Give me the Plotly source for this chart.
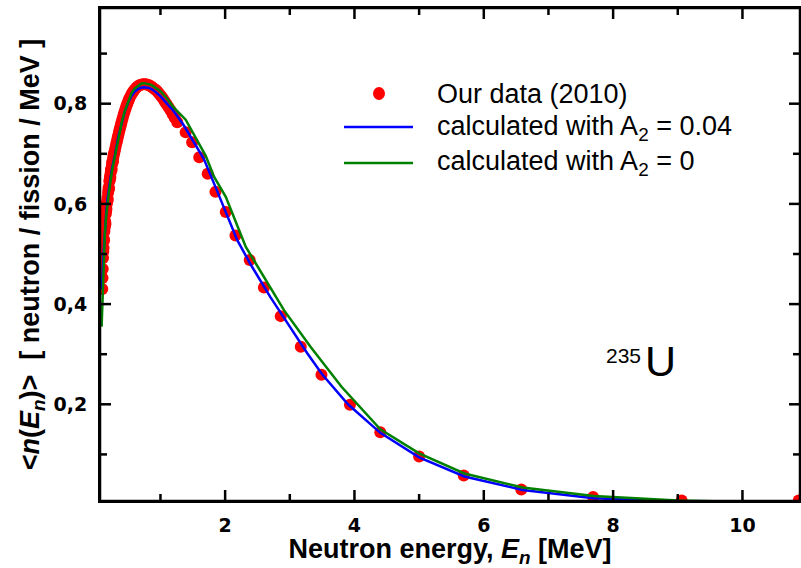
import plotly.graph_objects as go

# ---------------- data ----------------
data_E = [0.100, 0.104, 0.108, 0.112, 0.116, 0.120, 0.124, 0.128, 0.132, 0.136, 0.140, 0.145, 0.150,
          0.155, 0.160, 0.165, 0.170, 0.175, 0.180, 0.185, 0.190, 0.195, 0.200, 0.205, 0.210, 0.215,
          0.220, 0.225, 0.230, 0.235, 0.240, 0.245, 0.250, 0.255, 0.260, 0.265, 0.270, 0.275, 0.280,
          0.290, 0.300, 0.310, 0.320, 0.330, 0.340, 0.350, 0.360, 0.370, 0.380, 0.390, 0.400, 0.415,
          0.430, 0.445, 0.460, 0.475, 0.490, 0.505, 0.520, 0.540, 0.560, 0.580, 0.600, 0.625, 0.650,
          0.675, 0.700, 0.725, 0.750, 0.775, 0.800, 0.825, 0.850, 0.875, 0.900, 0.925, 0.950, 0.975,
          1.000, 1.025, 1.050, 1.075, 1.100, 1.130, 1.160, 1.190, 1.220,
          1.26, 1.39, 1.49, 1.60, 1.73, 1.85, 2.01, 2.16, 2.38, 2.60, 2.86, 3.17, 3.49, 3.93,
          4.40, 5.00, 5.69, 6.58, 7.69, 9.06, 10.87]
data_n = [0.430, 0.452, 0.470, 0.492, 0.505, 0.512, 0.530, 0.527, 0.545, 0.552, 0.556, 0.565, 0.560,
          0.580, 0.586, 0.590, 0.600, 0.605, 0.612, 0.608, 0.622, 0.628, 0.633, 0.630, 0.645, 0.648,
          0.655, 0.652, 0.662, 0.668, 0.670, 0.668, 0.678, 0.683, 0.686, 0.684, 0.692, 0.697, 0.700,
          0.704, 0.710, 0.716, 0.722, 0.727, 0.733, 0.738, 0.744, 0.749, 0.754, 0.759, 0.764, 0.771,
          0.778, 0.784, 0.790, 0.796, 0.801, 0.806, 0.811, 0.816, 0.821, 0.825, 0.828, 0.832, 0.835,
          0.837, 0.838, 0.839, 0.839, 0.839, 0.838, 0.837, 0.835, 0.833, 0.830, 0.828, 0.825, 0.821,
          0.817, 0.813, 0.808, 0.803, 0.798, 0.792, 0.786, 0.779, 0.772,
          0.763, 0.743, 0.723, 0.693, 0.660, 0.624, 0.584, 0.537, 0.488, 0.433, 0.376, 0.315, 0.259, 0.199,
          0.144, 0.096, 0.058, 0.030, 0.015, 0.008, 0.008]

calcA_E = [0.09, 0.10, 0.12, 0.14, 0.16, 0.18, 0.20, 0.25, 0.30, 0.35, 0.40, 0.45, 0.50, 0.55, 0.60,
           0.65, 0.70, 0.75, 0.80, 0.85, 0.90, 1.00, 1.10, 1.20, 1.36, 1.50, 1.67, 1.85, 2.00, 2.19,
           2.40, 2.70, 3.00, 3.27, 3.50, 3.90, 4.40, 5.00, 5.70, 6.60, 7.70, 9.00, 10.90]
calcA_n = [0.430, 0.445, 0.500, 0.550, 0.580, 0.610, 0.630, 0.670, 0.700, 0.735, 0.760, 0.785, 0.802, 0.815, 0.824,
           0.829, 0.832, 0.833, 0.832, 0.830, 0.826, 0.815, 0.800, 0.786, 0.757, 0.728, 0.690, 0.634, 0.588, 0.527,
           0.478, 0.414, 0.355, 0.302, 0.260, 0.200, 0.143, 0.094, 0.056, 0.029, 0.0125, 0.006, 0.002]

calc0_E = [0.09, 0.10, 0.11, 0.12, 0.14, 0.16, 0.18, 0.20, 0.25, 0.30, 0.35, 0.40, 0.45, 0.50, 0.55,
           0.60, 0.65, 0.70, 0.75, 0.80, 0.85, 0.90, 1.00, 1.10, 1.20, 1.39, 1.70, 1.83, 2.01, 2.32,
           2.91, 3.32, 3.80, 4.40, 5.00, 5.70, 6.60, 7.70, 9.00, 10.90]
calc0_n = [0.355, 0.400, 0.450, 0.490, 0.540, 0.575, 0.600, 0.620, 0.665, 0.700, 0.735, 0.762, 0.786, 0.805, 0.820,
           0.830, 0.836, 0.840, 0.841, 0.840, 0.838, 0.834, 0.825, 0.811, 0.793, 0.768, 0.696, 0.654, 0.614, 0.514,
           0.388, 0.315, 0.235, 0.150, 0.102, 0.062, 0.034, 0.017, 0.008, 0.003]

x_major = [2, 4, 6, 8, 10]
x_major_labels = ["2", "4", "6", "8", "10"]
x_minor = [1, 3, 5, 7, 9]
y_major = [0.2, 0.4, 0.6, 0.8]
y_major_labels = ["0,2", "0,4", "0,6", "0,8"]
y_minor = [0.1, 0.3, 0.5, 0.7, 0.9]

legend_labels = ["Our data (2010)",
                 "calculated with A<sub>2</sub> = 0.04",
                 "calculated with A<sub>2</sub> = 0"]

X_RANGE = [0.065, 10.89]
Y_RANGE = [0.007, 0.991]

RED = "rgb(255,0,0)"
BLUE = "rgb(0,0,255)"
GREEN = "rgb(0,128,0)"
BLACK = "rgb(0,0,0)"

# ---------------- layout geometry ----------------
W, H = 801, 568
ML, MR, MT, MB = 100, 1, 8, 67
PW, PH = W - ML - MR, H - MT - MB


def px(xp):
    return (xp - ML) / PW


def py(yp):
    return (H - MB - yp) / PH


FONT = "Liberation Sans, Arial, sans-serif"
TICKFONT = "DejaVu Sans, Liberation Sans, sans-serif"

fig = go.Figure()
fig.add_trace(go.Scatter(x=data_E, y=data_n, mode="markers",
                         marker=dict(color=RED, size=12, line=dict(width=0)),
                         name="Our data (2010)", showlegend=False))
fig.add_trace(go.Scatter(x=calcA_E, y=calcA_n, mode="lines",
                         line=dict(color=BLUE, width=2.5),
                         name="calculated with A2 = 0.04", showlegend=False))
fig.add_trace(go.Scatter(x=calc0_E, y=calc0_n, mode="lines",
                         line=dict(color=GREEN, width=2.5),
                         name="calculated with A2 = 0", showlegend=False))

fig.update_layout(
    template="none",
    width=W, height=H,
    margin=dict(l=ML, r=MR, t=MT, b=MB, pad=0),
    paper_bgcolor="white", plot_bgcolor="white",
    showlegend=False,
    xaxis=dict(
        range=X_RANGE, autorange=False,
        tickmode="array", tickvals=x_major,
        ticktext=["<b>%s</b>" % t for t in x_major_labels],
        showline=True, linecolor=BLACK, linewidth=2, mirror=True,
        ticks="", showgrid=False, zeroline=False,
        ticklabelstandoff=6,
        tickfont=dict(family=TICKFONT, size=19, color=BLACK),
        title=dict(text="<b>Neutron energy, <i>E<sub>n</sub></i> [MeV]</b>",
                   font=dict(family=FONT, size=27, color=BLACK),
                   standoff=4),
    ),
    yaxis=dict(
        range=Y_RANGE, autorange=False,
        tickmode="array", tickvals=y_major,
        ticktext=["<b>%s</b>" % t for t in y_major_labels],
        showline=True, linecolor=BLACK, linewidth=2, mirror=True,
        ticks="", showgrid=False, zeroline=False,
        ticklabelstandoff=7,
        tickfont=dict(family=TICKFONT, size=19, color=BLACK),
        title=dict(text="<b>&lt;<i>n</i>(<i>E<sub>n</sub></i>)&gt;  [ neutron / fission / MeV ]</b>",
                   font=dict(family=FONT, size=27, color=BLACK),
                   standoff=6),
    ),
)

# ---------------- frame and ticks (inside, mirrored) ----------------
fig.add_shape(type="rect", xref="paper", yref="paper", x0=0, x1=1, y0=0, y1=1,
              line=dict(color=BLACK, width=2.5), fillcolor="rgba(0,0,0,0)", layer="above")

MAJ, MIN = 11, 7
for vals, ln in ((x_major, MAJ), (x_minor, MIN)):
    for v in vals:
        fig.add_shape(type="line", xref="x", yref="paper", x0=v, x1=v, y0=0, y1=ln / PH,
                      line=dict(color=BLACK, width=2.5), layer="above")
        fig.add_shape(type="line", xref="x", yref="paper", x0=v, x1=v, y0=1 - ln / PH, y1=1,
                      line=dict(color=BLACK, width=2.5), layer="above")
for vals, ln in ((y_major, MAJ), (y_minor, MIN)):
    for v in vals:
        fig.add_shape(type="line", xref="paper", yref="y", x0=0, x1=ln / PW, y0=v, y1=v,
                      line=dict(color=BLACK, width=2.5), layer="above")
        fig.add_shape(type="line", xref="paper", yref="y", x0=1 - ln / PW, x1=1, y0=v, y1=v,
                      line=dict(color=BLACK, width=2.5), layer="above")

# ---------------- manual legend ----------------
leg_font = dict(family=FONT, size=27, color=BLACK)
rows_y = [94, 128, 163]
fig.add_shape(type="circle", xref="paper", yref="paper",
              x0=px(373), x1=px(385), y0=py(87), y1=py(100),
              fillcolor=RED, line=dict(width=0))
fig.add_shape(type="line", xref="paper", yref="paper",
              x0=px(344), x1=px(413), y0=py(127), y1=py(127),
              line=dict(color=BLUE, width=2.5))
fig.add_shape(type="line", xref="paper", yref="paper",
              x0=px(344), x1=px(413), y0=py(163), y1=py(163),
              line=dict(color=GREEN, width=2.5))
for lab, yy in zip(legend_labels, rows_y):
    fig.add_annotation(text=lab, xref="paper", yref="paper", x=px(435), y=py(yy),
                       xanchor="left", yanchor="middle", showarrow=False, font=leg_font)

# ---------------- isotope label ----------------
fig.add_annotation(text="235", xref="paper", yref="paper", x=px(643), y=py(356),
                   xanchor="right", yanchor="middle", showarrow=False,
                   font=dict(family=FONT, size=21, color=BLACK))
fig.add_annotation(text="U", xref="paper", yref="paper", x=px(643), y=py(361),
                   xanchor="left", yanchor="middle", showarrow=False,
                   font=dict(family=FONT, size=43, color=BLACK))

fig.write_html("out.html")
